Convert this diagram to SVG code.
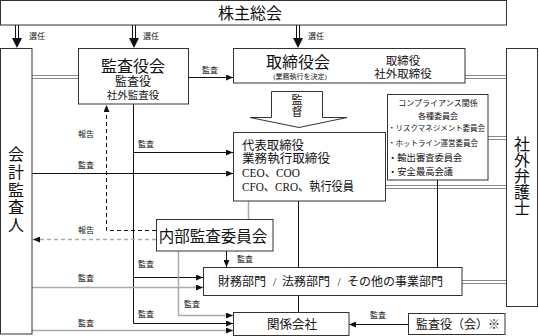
<svg xmlns="http://www.w3.org/2000/svg" width="539" height="336" viewBox="0 0 539 336">
<defs>
<style>
.box{fill:#fff;stroke:#333;stroke-width:1}
.t{font-family:'Liberation Serif','Noto Sans CJK JP',serif;fill:#111}
.c{stroke:#111;stroke-width:1;fill:none}
.g{stroke:#aaa;stroke-width:1.5;fill:none}
.d{stroke:#111;stroke-width:1;stroke-dasharray:4,3;fill:none}
.gd{stroke:#aaa;stroke-width:1.5;stroke-dasharray:4,3;fill:none}
.dbl{stroke:#888;stroke-width:1}
.lbl{font-size:8px}
</style>
<marker id="ah" markerUnits="userSpaceOnUse" markerWidth="7" markerHeight="6" refX="7" refY="3" orient="auto"><path d="M0,0 L7,3 L0,6 z" fill="#111"/></marker>
</defs>
<rect width="539" height="336" fill="#fff"/>

<g id="connectors">
  <!-- 選任 thick arrows -->
  <g fill="#111" stroke="#111" stroke-width="1">
    <line x1="15.5" y1="25" x2="15.5" y2="39"/><line x1="18.5" y1="25" x2="18.5" y2="39"/>
    <polygon points="12,38 22,38 17,48" stroke="none"/>
    <line x1="132.5" y1="25" x2="132.5" y2="39"/><line x1="135.5" y1="25" x2="135.5" y2="39"/>
    <polygon points="129,38 139,38 134,48" stroke="none"/>
    <line x1="296.5" y1="25" x2="296.5" y2="39"/><line x1="299.5" y1="25" x2="299.5" y2="39"/>
    <polygon points="293,38 303,38 298,48" stroke="none"/>
  </g>
  <!-- double lines -->
  <g class="dbl">
    <line x1="32" y1="75.5" x2="78" y2="75.5"/><line x1="32" y1="78.5" x2="78" y2="78.5"/>
    <line x1="465" y1="75.5" x2="506" y2="75.5"/><line x1="465" y1="78.5" x2="506" y2="78.5"/>
    <line x1="488" y1="136.5" x2="506" y2="136.5"/><line x1="488" y1="139.5" x2="506" y2="139.5"/>
    <line x1="386" y1="185.5" x2="506" y2="185.5"/><line x1="386" y1="188.5" x2="506" y2="188.5"/>
    <line x1="462" y1="280.5" x2="506" y2="280.5"/><line x1="462" y1="283.5" x2="506" y2="283.5"/>
  </g>
  <!-- 監査役会 -> 取締役会 -->
  <line class="c" x1="188" y1="77.5" x2="233" y2="77.5" marker-end="url(#ah)"/>
  <!-- 監査役会 vertical audit line -->
  <path class="c" d="M133.5,104 V323.5 H233" marker-end="url(#ah)"/>
  <line class="c" x1="133.5" y1="152.5" x2="233" y2="152.5" marker-end="url(#ah)"/>
  <line class="c" x1="133.5" y1="277.5" x2="203" y2="277.5" marker-end="url(#ah)"/>
  <!-- 会計監査人 audit lines -->
  <line class="c" x1="32" y1="173.5" x2="233" y2="173.5" marker-end="url(#ah)"/>
  <line class="g" x1="32" y1="287.5" x2="203" y2="287.5" marker-end="url(#ah)"/>
  <line class="g" x1="32" y1="330.5" x2="233" y2="330.5" marker-end="url(#ah)"/>
  <!-- 内部監査委員会 -->
  <line class="c" x1="226.5" y1="251" x2="226.5" y2="267" marker-end="url(#ah)"/>
  <path class="g" d="M178.5,251 V315.5 H233" marker-end="url(#ah)"/>
  <!-- reports (dashed) -->
  <path class="d" d="M156,230.5 H106.5 V105" marker-end="url(#ah)"/>
  <line class="gd" x1="156" y1="239.5" x2="33" y2="239.5" marker-end="url(#ah)"/>
  <!-- exec links -->
  <line class="g" x1="248.5" y1="201" x2="248.5" y2="219"/>
  <line class="c" x1="298.5" y1="201" x2="298.5" y2="267"/>
  <line class="c" x1="298.5" y1="296" x2="298.5" y2="312"/>
  <line class="c" x1="437.5" y1="180" x2="437.5" y2="267"/>
  <!-- 監査役（会） -> 関係会社 -->
  <line class="c" x1="408" y1="324.5" x2="349" y2="324.5" marker-end="url(#ah)"/>
  <!-- labels -->
  <g class="t lbl">
    <text x="29" y="39">選任</text>
    <text x="143" y="39">選任</text>
    <text x="308" y="39">選任</text>
    <text x="202" y="73">監査</text>
    <text x="78" y="137">報告</text>
    <text x="138" y="147">監査</text>
    <text x="78" y="168">監査</text>
    <text x="78" y="233">報告</text>
    <text x="237" y="262">監査</text>
    <text x="138" y="267">監査</text>
    <text x="78" y="281">監査</text>
    <text x="184" y="307">監査</text>
    <text x="138" y="317">監査</text>
    <text x="78" y="326">監査</text>
    <text x="370" y="318">監査</text>
  </g>
</g>

<g id="shareholders">
  <rect class="box" x="0.5" y="0.5" width="506" height="24.5"/>
  <text class="t" x="250" y="19" font-size="16" text-anchor="middle">株主総会</text>
</g>

<g id="accounting-auditor">
  <rect class="box" x="0.5" y="48.5" width="31.5" height="285.5"/>
  <text class="t" font-size="16" text-anchor="middle">
    <tspan x="16" y="160">会</tspan><tspan x="16" y="178">計</tspan><tspan x="16" y="196">監</tspan><tspan x="16" y="213">査</tspan><tspan x="16" y="231">人</tspan>
  </text>
</g>

<g id="audit-board">
  <rect class="box" x="78.5" y="48.5" width="110" height="55.5"/>
  <text class="t" x="133" y="72" font-size="16" text-anchor="middle">監査役会</text>
  <text class="t" x="133" y="86" font-size="12" text-anchor="middle">監査役</text>
  <text class="t" x="133" y="99" font-size="10.5" text-anchor="middle">社外監査役</text>
</g>

<g id="board">
  <rect class="box" x="233.5" y="48.5" width="231.5" height="34.5"/>
  <text class="t" x="298" y="68" font-size="16" text-anchor="middle">取締役会</text>
  <text class="t" x="300" y="78.5" font-size="7" text-anchor="middle">(業務執行を決定)</text>
  <text class="t" x="403" y="64.5" font-size="11.5" text-anchor="middle">取締役</text>
  <text class="t" x="403" y="77.5" font-size="11.5" text-anchor="middle">社外取締役</text>
</g>

<g id="external-lawyer">
  <rect class="box" x="506.5" y="48.5" width="31" height="258"/>
  <text class="t" font-size="16" text-anchor="middle">
    <tspan x="522" y="150">社</tspan><tspan x="522" y="166">外</tspan><tspan x="522" y="182">弁</tspan><tspan x="522" y="198">護</tspan><tspan x="522" y="214">士</tspan>
  </text>
</g>

<g id="supervision">
  <polygon points="271.5,91.5 322.5,91.5 322.5,117.5 347,117.5 299,127.5 250,117.5 271.5,117.5" fill="#fff" stroke="#333" stroke-width="1"/>
  <text class="t" font-size="11" text-anchor="middle"><tspan x="297" y="104">監</tspan><tspan x="297" y="115.5">督</tspan></text>
</g>

<g id="executives">
  <rect class="box" x="233.5" y="132.5" width="152" height="68.5"/>
  <text class="t" x="242" y="150" font-size="12.5" textLength="62" lengthAdjust="spacingAndGlyphs">代表取締役</text>
  <text class="t" x="242" y="163" font-size="12.5" textLength="88" lengthAdjust="spacingAndGlyphs">業務執行取締役</text>
  <text class="t" x="242" y="177" font-size="12.5" textLength="58" lengthAdjust="spacingAndGlyphs">CEO、COO</text>
  <text class="t" x="242" y="191" font-size="12.5" textLength="112" lengthAdjust="spacingAndGlyphs">CFO、CRO、執行役員</text>
</g>

<g id="compliance">
  <rect class="box" x="387.5" y="94.5" width="100.5" height="85.5"/>
  <text class="t" x="438" y="106" font-size="8" text-anchor="middle">コンプライアンス関係</text>
  <text class="t" x="438" y="119" font-size="8" text-anchor="middle">各種委員会</text>
  <text class="t" x="388" y="131" font-size="7.5" textLength="97" lengthAdjust="spacingAndGlyphs">・リスクマネジメント委員会</text>
  <text class="t" x="388" y="146" font-size="7.5" textLength="90" lengthAdjust="spacingAndGlyphs">・ホットライン運営委員会</text>
  <text class="t" x="388" y="161" font-size="9.3">・輸出審査委員会</text>
  <text class="t" x="388" y="175" font-size="9.3">・安全最高会議</text>
</g>

<g id="internal-audit">
  <rect class="box" x="156.5" y="219.5" width="116.5" height="31.5"/>
  <text class="t" x="213" y="242" font-size="15.5" text-anchor="middle">内部監査委員会</text>
</g>

<g id="departments">
  <rect class="box" x="203.5" y="267.5" width="258.5" height="28"/>
  <text class="t" y="286" font-size="12"><tspan x="218">財務部門</tspan><tspan x="273">/</tspan><tspan x="282">法務部門</tspan><tspan x="337.5">/</tspan><tspan x="347">その他の事業部門</tspan></text>
</g>

<g id="affiliates">
  <rect class="box" x="233.5" y="312.5" width="115.5" height="23"/>
  <text class="t" x="292" y="329" font-size="12.5" text-anchor="middle">関係会社</text>
</g>

<g id="corporate-auditors">
  <rect class="box" x="408.5" y="313.5" width="96.5" height="21"/>
  <text class="t" x="458" y="329" font-size="12" text-anchor="middle">監査役（会）※</text>
</g>
</svg>
